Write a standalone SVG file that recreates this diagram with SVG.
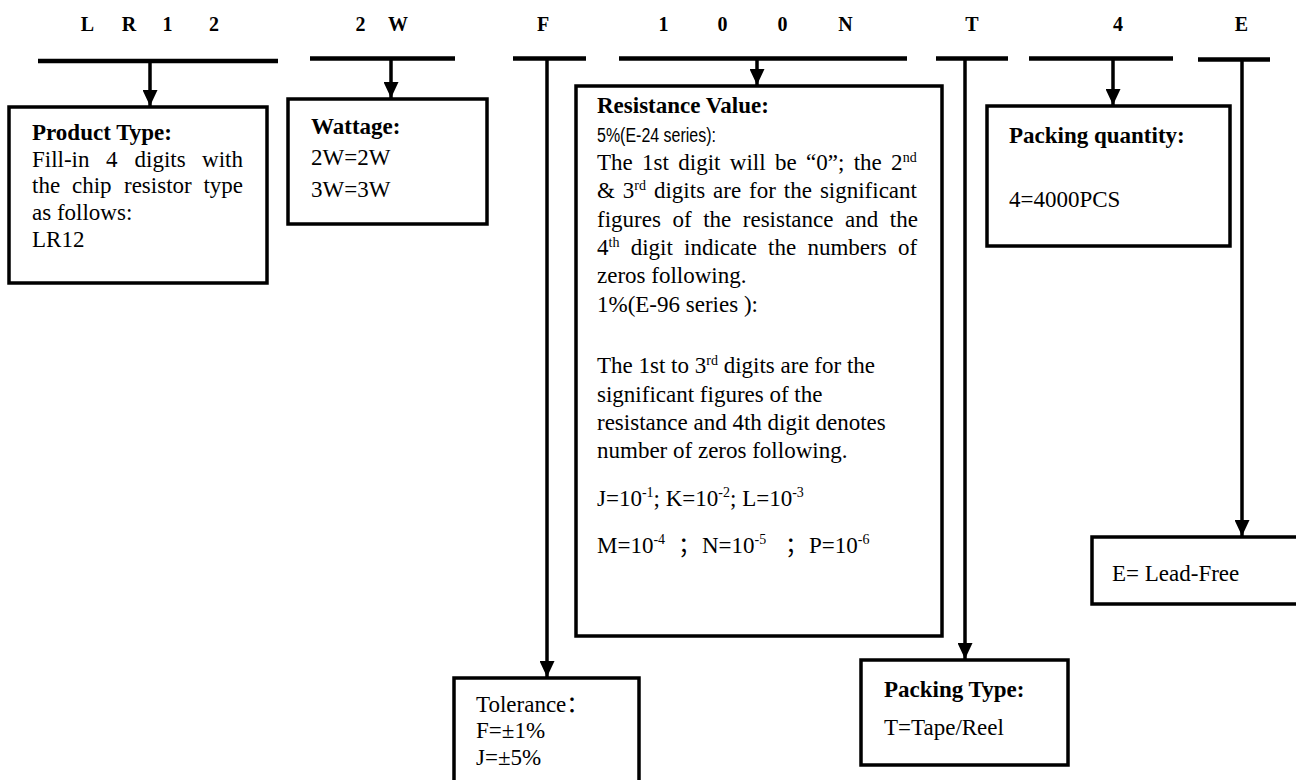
<svg xmlns="http://www.w3.org/2000/svg" width="1296" height="780" viewBox="0 0 1296 780">
<defs>
<style>
.box{fill:#fff;stroke:#000;stroke-width:3.5}
.bar{stroke:#000;stroke-width:4.5}
.conn{stroke:#000;stroke-width:3.5;fill:none}
.t{font-family:"Liberation Serif","Times New Roman","Noto Sans CJK SC",serif;font-size:23px;fill:#000}
.b{font-weight:bold}
.h{font-family:"Liberation Serif","Times New Roman",serif;font-weight:bold;font-size:20px;text-anchor:middle;fill:#000}
.s{font-family:"Liberation Sans",Arial,sans-serif;font-size:20px}
.sup{font-size:14px}
</style>
<marker id="ah" viewBox="0 0 16 15" markerWidth="16" markerHeight="15" refX="16" refY="7.5" orient="auto" markerUnits="userSpaceOnUse">
<path d="M0,0 L16,7.5 L0,15 z" fill="#000"/>
</marker>
</defs>
<rect width="1296" height="780" fill="#fff"/>

<g id="header">
<text class="h" x="87.5" y="31">L</text>
<text class="h" x="129" y="31">R</text>
<text class="h" x="167.5" y="31">1</text>
<text class="h" x="214" y="31">2</text>
<text class="h" x="360.5" y="31">2</text>
<text class="h" x="398" y="31">W</text>
<text class="h" x="543" y="31">F</text>
<text class="h" x="663.5" y="31">1</text>
<text class="h" x="722.5" y="31">0</text>
<text class="h" x="782.5" y="31">0</text>
<text class="h" x="845.5" y="31">N</text>
<text class="h" x="972" y="31">T</text>
<text class="h" x="1118" y="31">4</text>
<text class="h" x="1241.5" y="31">E</text>
</g>

<g id="product-type">
<rect class="box" x="9" y="107" width="258" height="176"/>
<text class="t b" x="32" y="140">Product Type:</text>
<text class="t" y="167"><tspan x="32">Fill-in</tspan><tspan x="106">4</tspan><tspan x="134.5">digits</tspan></text>
<text class="t" x="243" y="167" text-anchor="end">with</text>
<text class="t" y="193"><tspan x="32">the</tspan><tspan x="72">chip</tspan><tspan x="124">resistor</tspan></text>
<text class="t" x="243" y="193" text-anchor="end">type</text>
<text class="t" x="32" y="220">as follows:</text>
<text class="t" x="32" y="247">LR12</text>
</g>

<g id="wattage">
<rect class="box" x="288" y="99" width="199" height="125"/>
<text class="t b" x="311" y="134">Wattage:</text>
<text class="t" x="311" y="165">2W=2W</text>
<text class="t" x="311" y="197">3W=3W</text>
</g>

<g id="resistance-value">
<rect class="box" x="576" y="86" width="366" height="550"/>
<text class="t b" x="597" y="113">Resistance Value:</text>
<text class="t s" x="597" y="142" textLength="119" lengthAdjust="spacingAndGlyphs">5%(E-24 series):</text>
<text class="t" x="597" y="170" style="word-spacing:3.6px">The 1st digit will be “0”; the 2<tspan class="sup" dy="-8">nd</tspan></text>
<text class="t" x="597" y="198" style="word-spacing:2.2px">&amp; 3<tspan class="sup" dy="-8">rd</tspan><tspan dy="8"> digits are for the significant</tspan></text>
<text class="t" x="597" y="227" style="word-spacing:5.8px">figures of the resistance and the</text>
<text class="t" x="597" y="255" style="word-spacing:5.5px">4<tspan class="sup" dy="-8">th</tspan><tspan dy="8"> digit indicate the numbers of</tspan></text>
<text class="t" x="597" y="283">zeros following.</text>
<text class="t" x="597" y="312">1%(E-96 series ):</text>
<text class="t" x="597" y="373">The 1st to 3<tspan class="sup" dy="-8">rd</tspan><tspan dy="8"> digits are for the</tspan></text>
<text class="t" x="597" y="402">significant figures of the</text>
<text class="t" x="597" y="430">resistance and 4th digit denotes</text>
<text class="t" x="597" y="458">number of zeros following.</text>
<text class="t" x="597" y="506">J=10<tspan class="sup" dy="-9">-1</tspan><tspan dy="9">; K=10</tspan><tspan class="sup" dy="-9">-2</tspan><tspan dy="9">; L=10</tspan><tspan class="sup" dy="-9">-3</tspan></text>
<text class="t" x="597" y="553">M=10<tspan class="sup" dy="-9">-4</tspan></text>
<text class="t" x="678" y="553">；</text>
<text class="t" x="702" y="553">N=10<tspan class="sup" dy="-9">-5</tspan></text>
<text class="t" x="785" y="553">；</text>
<text class="t" x="809" y="553">P=10<tspan class="sup" dy="-9">-6</tspan></text>
</g>

<g id="packing-quantity">
<rect class="box" x="987" y="106" width="243" height="140"/>
<text class="t b" x="1009" y="143">Packing quantity:</text>
<text class="t" x="1009" y="207">4=4000PCS</text>
</g>

<g id="lead-free">
<rect class="box" x="1092" y="537" width="220" height="67"/>
<text class="t" x="1112" y="581">E= Lead-Free</text>
</g>

<g id="tolerance">
<rect class="box" x="454" y="678" width="185" height="120"/>
<text class="t" x="476" y="712">Tolerance：</text>
<text class="t" x="476" y="738">F=±1%</text>
<text class="t" x="476" y="765">J=±5%</text>
</g>

<g id="packing-type">
<rect class="box" x="861" y="660" width="207" height="105"/>
<text class="t b" x="884" y="697">Packing Type:</text>
<text class="t" x="884" y="735">T=Tape/Reel</text>
</g>

<g id="connectors">
<line class="bar" x1="38" y1="61" x2="278" y2="61"/>
<line class="bar" x1="310" y1="58.5" x2="455" y2="58.5"/>
<line class="bar" x1="513" y1="58.5" x2="586" y2="58.5"/>
<line class="bar" x1="619" y1="58.5" x2="907" y2="58.5"/>
<line class="bar" x1="936" y1="58.5" x2="1008" y2="58.5"/>
<line class="bar" x1="1029" y1="58.5" x2="1173" y2="58.5"/>
<line class="bar" x1="1198" y1="59.5" x2="1270" y2="59.5"/>
<line class="conn" x1="150" y1="61" x2="150" y2="106" marker-end="url(#ah)"/>
<line class="conn" x1="391" y1="58.5" x2="391" y2="98" marker-end="url(#ah)"/>
<line class="conn" x1="547" y1="58.5" x2="547" y2="677" marker-end="url(#ah)"/>
<line class="conn" x1="757" y1="58.5" x2="757" y2="85" marker-end="url(#ah)"/>
<line class="conn" x1="965" y1="58.5" x2="965" y2="659" marker-end="url(#ah)"/>
<line class="conn" x1="1113" y1="58.5" x2="1113" y2="105" marker-end="url(#ah)"/>
<line class="conn" x1="1242" y1="59.5" x2="1242" y2="536" marker-end="url(#ah)"/>
</g>
</svg>
